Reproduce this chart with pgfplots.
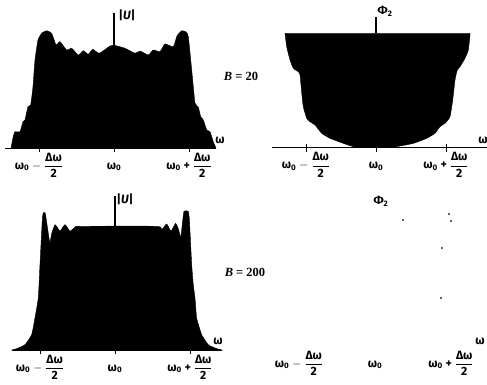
\documentclass[border=0pt]{standalone}
\usepackage{amsmath}
\usepackage{fontspec}
\setmainfont{Fira Sans}
\newfontfamily\serifB{Liberation Serif}
\usepackage{pgfplots}
\pgfplotsset{compat=1.18}
\newcommand{\wz}{ω\textsubscript{0}}
\newcommand{\hfr}{$\dfrac{\mbox{Δω}}{\mbox{2}}$}
\newcommand{\labL}{\wz\ $-$ \hfr}
\newcommand{\labM}{\vphantom{\hfr}\wz}
\newcommand{\labR}{\wz\ + \hfr}
\pgfplotsset{panel/.style={scale only axis, anchor=south west, clip=false,
  axis x line=bottom, axis y line=none, x axis line style={-, line width=0.9pt},
  ytick=\empty, xtick={-1,0,1}, xticklabels={\labL,\labM,\labR},
  xticklabel style={font=\fontsize{12}{14}\selectfont\bfseries, anchor=north, inner sep=0.5pt},
  major tick length=8pt, tick style={line width=0.9pt, black}, ymin=0}}
\tikzset{lab/.style={font=\fontsize{12}{14}\selectfont\bfseries, inner sep=0pt}}
\begin{document}
\begin{tikzpicture}
\useasboundingbox (0,0) rectangle (487pt,384pt);
% Panel 1: |U|, B = 20
\begin{axis}[panel, at={(5pt,236pt)}, width=211pt, height=135pt,
  xmin=-1.453, xmax=1.36, ymax=1.317]
\addplot[fill=black, draw=black, smooth, tension=0.3] coordinates {
(-1.373,0) (-1.343,0.110) (-1.32,0.159) (-1.253,0.159) (-1.213,0.257) (-1.187,0.273)
(-1.147,0.403) (-1.111,0.420) (-1.08,0.598) (-1.053,0.859) (-1.013,1.054) (-0.96,1.122)
(-0.897,1.144) (-0.831,1.119) (-0.773,1.005) (-0.72,1.037) (-0.631,0.956) (-0.564,0.973)
(-0.476,0.907) (-0.409,0.949) (-0.343,0.914) (-0.284,0.963) (-0.196,0.924) (-0.053,0.995)
(0.013,1.0) (0.147,0.973) (0.28,0.924) (0.347,0.946) (0.457,0.907) (0.524,0.956)
(0.613,0.940) (0.68,1.015) (0.791,0.988) (0.84,1.093) (0.903,1.144) (0.96,1.132)
(0.991,1.086) (1.036,0.761) (1.08,0.439) (1.124,0.4) (1.156,0.305) (1.191,0.273)
(1.236,0.176) (1.28,0.159) (1.324,0.061) (1.36,0)} \closedcycle;
\addplot[black, line width=1.1pt] coordinates {(0,0) (0,1.317)};
\node[lab] at (axis cs:0.173,1.298) {|\textit{U}|};
\node[lab] at (axis cs:1.413,0.078) {ω};
\end{axis}
% Panel 2: Phi2, B = 20
\begin{axis}[panel, at={(272pt,236.3pt)}, width=215pt, height=131pt,
  xmin=-1.486, xmax=1.586, ymax=1.145]
\addplot[fill=black, draw=black, smooth, tension=0.3] coordinates {
(-1.3,1.0) (-1.276,0.883) (-1.229,0.767) (-1.181,0.694) (-1.11,0.664) (-1.086,0.636)
(-1.061,0.476) (-1.039,0.358) (-0.99,0.257) (-0.943,0.227) (-0.871,0.198) (-0.776,0.126)
(-0.657,0.082) (-0.467,0.038) (-0.324,0.009) (-0.229,0) (0.2,0) (0.296,0.009)
(0.533,0.038) (0.724,0.082) (0.843,0.126) (0.914,0.184) (0.986,0.213) (1.057,0.271)
(1.096,0.417) (1.129,0.592) (1.161,0.679) (1.2,0.708) (1.271,0.781) (1.319,0.854)
(1.343,0.985) (1.343,1.0)} -- cycle;
\addplot[black, line width=1.1pt] coordinates {(0,1) (0,1.145)};
\node[lab] at (axis cs:0.129,1.195) {Φ\textsubscript{2}};
\node[lab] at (axis cs:1.529,0.067) {ω};
\end{axis}
% Panel 3: |U|, B = 200
\begin{axis}[panel, at={(12pt,34pt)}, width=210pt, height=154pt,
  xmin=-1.373, xmax=1.427, ymax=1.245]
\addplot[fill=black, draw=black, smooth, tension=0.3] coordinates {
(-1.373,0) (-1.311,0.011) (-1.2,0.043) (-1.111,0.124) (-1.067,0.259) (-1.023,0.420)
(-1.0,0.690) (-0.977,0.962) (-0.967,1.07) (-0.956,1.108) (-0.93,1.108) (-0.91,1.03)
(-0.88,0.905) (-0.867,0.87) (-0.84,0.95) (-0.8,1.013) (-0.767,0.99) (-0.733,0.96)
(-0.70,0.99) (-0.667,1.013) (-0.633,0.99) (-0.6,0.96) (-0.533,0.992) (-0.47,1.0)
(0.556,1.0) (0.623,0.973) (0.689,1.019) (0.747,0.962) (0.809,1.024) (0.85,0.97)
(0.876,0.911) (0.9,1.027) (0.92,1.121) (0.977,1.121) (0.993,1.051) (1.0,0.96)
(1.023,0.690) (1.044,0.528) (1.067,0.420) (1.089,0.259) (1.156,0.124) (1.244,0.043)
(1.356,0.011) (1.427,0)} \closedcycle;
\addplot[black, line width=1.1pt] coordinates {(0,0) (0,1.245)};
\node[lab] at (axis cs:0.133,1.222) {|\textit{U}|};
\node[lab] at (axis cs:1.373,0.073) {ω};
\end{axis}
% Panel 4: Phi2, B = 200
\begin{axis}[panel, at={(262pt,34pt)}, width=225pt, height=154pt,
  xmin=-1.487, xmax=1.474, ymax=1.245, x axis line style={draw=none}, major tick length=0pt]
\addplot[only marks, mark=*, mark size=0.6pt, black] coordinates {
(0.368,1.051) (0.974,1.099) (1.0,1.043) (0.882,0.825) (0.868,0.42)};
\node[lab] at (axis cs:0.079,1.205) {Φ\textsubscript{2}};
\node[lab] at (axis cs:1.382,0.073) {ω};
\end{axis}
\node[font=\fontsize{12.5}{14}\selectfont\serifB\bfseries] at (241pt,308pt) {\textit{B} = 20};
\node[font=\fontsize{12.5}{14}\selectfont\serifB\bfseries] at (245pt,112pt) {\textit{B} = 200};
\end{tikzpicture}
\end{document}
